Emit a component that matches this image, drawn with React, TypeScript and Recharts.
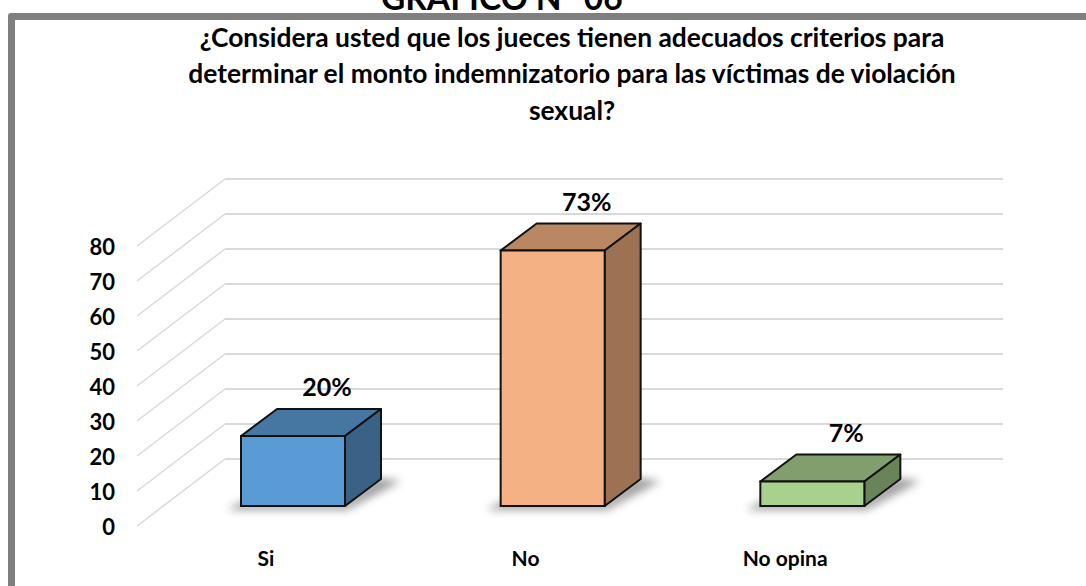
import { Bar, BarChart, CartesianGrid, LabelList, XAxis, YAxis } from 'recharts'

const categories = ['Si', 'No', 'No opina']
const values = [20, 73, 7]
const percentLabels = ['20%', '73%', '7%']
const yTicks = [0, 10, 20, 30, 40, 50, 60, 70, 80]
const titleLines = [
  '¿Considera usted que los jueces tienen adecuados criterios para',
  'determinar el monto indemnizatorio para las víctimas de violación',
  'sexual?',
]
const frontColors = ['#5B9BD5', '#F4B183', '#A9D18E']
const topColors = ['#4676A2', '#BA8763', '#819F6C']
const sideColors = ['#3A6285', '#9C7252', '#6A845A']

const chartData = categories.map((name, i) => ({ name, value: values[i], pct: percentLabels[i] }))

const FONT = 'Lato, Carlito, sans-serif'
const DEPTH_X = 36
const DEPTH_Y = 27

// the fake 3D floor/wall: side wall going down-left, then the back wall line
function WallLine(props: any) {
  const { y1 } = props
  const back = y1 - 47
  return (
    <g fill="none" stroke="#D9D9D9">
      <line x1={137} y1={y1 + 20} x2={225} y2={back} strokeWidth={1.5} />
      <line x1={225} y1={back} x2={1003} y2={back} strokeWidth={2} />
    </g>
  )
}

function Box3D(props: any) {
  const { x, y, width, height, index } = props
  const d = DEPTH_X
  const h = DEPTH_Y
  const b = y + height
  const r = x + width
  return (
    <g>
      <polygon
        points={`${x - 14},${b + 4} ${r + 2},${b + 4} ${r + d + 20},${b - h + 2} ${r + d - 4},${b - h - 1} ${r},${b - 4} ${x},${b - 4}`}
        fill="#777"
        opacity={0.7}
        filter="url(#shadowBlur)"
      />
      <polygon points={`${x},${y} ${r},${y} ${r + d},${y - h} ${x + d},${y - h}`} fill={topColors[index]} stroke="#111" strokeWidth={2} strokeLinejoin="round" />
      <polygon points={`${r},${y} ${r + d},${y - h} ${r + d},${b - h} ${r},${b}`} fill={sideColors[index]} stroke="#111" strokeWidth={2} strokeLinejoin="round" />
      <rect x={x} y={y} width={width} height={height} fill={frontColors[index]} stroke="#111" strokeWidth={2} />
    </g>
  )
}

function PctLabel(props: any) {
  const { x, y, width, index } = props
  return (
    <text x={x + width / 2 + 34} y={y - 40} textAnchor="middle" fontFamily={FONT} fontWeight={700} fontSize={25} fill="#000">
      {percentLabels[index]}
    </text>
  )
}

function CatTick(props: any) {
  const { x, y, payload } = props
  return (
    <text x={x - 27} y={y + 52} textAnchor="middle" fontFamily={FONT} fontWeight={700} fontSize={21} fill="#000">
      {payload.value}
    </text>
  )
}

function ValueTick(props: any) {
  const { y, payload } = props
  return (
    <text x={115} y={y + 29} textAnchor="end" fontFamily={FONT} fontWeight={700} fontSize={22} fill="#000">
      {payload.value}
    </text>
  )
}

export default function App() {
  return (
    <div style={{ position: 'fixed', left: 0, top: 0, width: 1086, height: 586, background: '#fff', overflow: 'hidden' }}>
      <div
        style={{
          position: 'absolute',
          left: 8,
          top: 13,
          width: 1100,
          height: 600,
          boxSizing: 'border-box',
          border: '7px solid #7F7F7F',
          borderRadius: 3,
        }}
      />
      <div
        style={{
          position: 'absolute',
          left: 381,
          top: -18,
          fontFamily: FONT,
          fontWeight: 700,
          fontSize: 33.5,
          lineHeight: '30px',
          whiteSpace: 'nowrap',
          color: '#000',
        }}
      >
        GRÁFICO N° 06
      </div>
      <BarChart
        width={1086}
        height={586}
        data={chartData}
        margin={{ top: 226, right: 144, bottom: 50, left: 103 }}
        style={{ position: 'absolute', left: 0, top: 0 }}
      >
        <defs>
          <filter id="shadowBlur" x="-20%" y="-50%" width="140%" height="200%">
            <feGaussianBlur stdDeviation="4" />
          </filter>
        </defs>
        <text textAnchor="middle" fontFamily={FONT} fontWeight={700} fontSize={26.4} fill="#000">
          {titleLines.map((line, i) => (
            <tspan key={i} x={572} y={47 + i * 36.3}>
              {line}
            </tspan>
          ))}
        </text>
        <CartesianGrid vertical={false} horizontal={(p: any) => <WallLine key={p.y1} {...p} />} syncWithTicks />
        <XAxis dataKey="name" height={30} axisLine={false} tickLine={false} tick={<CatTick />} interval={0} />
        <YAxis
          width={60}
          domain={[0, 80]}
          ticks={yTicks}
          axisLine={false}
          tickLine={false}
          tick={<ValueTick />}
          interval={0}
        />
        <Bar dataKey="value" barSize={104} shape={<Box3D />} isAnimationActive={false}>
          <LabelList dataKey="pct" content={<PctLabel />} />
        </Bar>
      </BarChart>
    </div>
  )
}
